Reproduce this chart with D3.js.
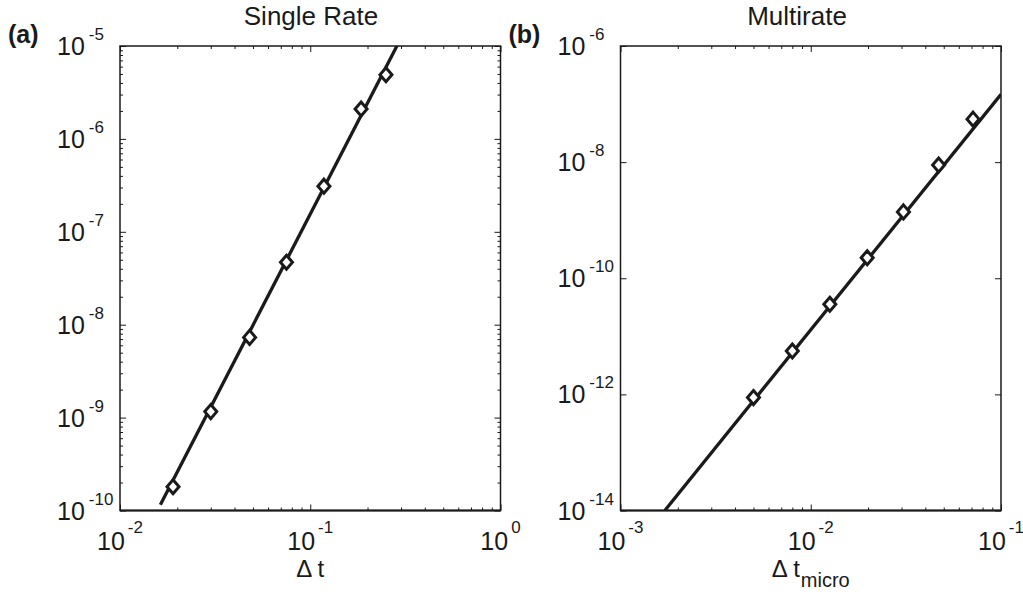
<!DOCTYPE html>
<html>
<head>
<meta charset="utf-8">
<script src="https://cdn.jsdelivr.net/npm/d3@7"></script>
<style>
  body { margin: 0; background: #fff; }
  text { font-family: "Liberation Sans", Arial, Helvetica, sans-serif; fill: #1a1a1a; }
</style>
</head>
<body>
<div id="chart"></div>
<script>
// values

// (a) single rate
const dtSingle  = [0.019, 0.030, 0.048, 0.075, 0.118, 0.185, 0.25];
const errSingle = [1.8e-10, 1.16e-9, 7.3e-9, 4.7e-8, 3.1e-7, 2.1e-6, 4.9e-6];
const fitSingleDt  = [0.0163, 0.30];
const fitSingleErr = [1.15e-10, 1.22e-5];

// (b) multirate
const dtMicro  = [0.0050, 0.0080, 0.0126, 0.0198, 0.0307, 0.047, 0.0713];
const errMulti = [8.8e-13, 5.6e-12, 3.57e-11, 2.26e-10, 1.39e-9, 8.9e-9, 5.5e-8];
const fitMultiDt  = [0.00171, 0.1];
const fitMultiErr = [1e-14, 1.47e-7];

// ticks and their exponents
const xTicksSingle = [1e-2, 1e-1, 1];
const xExpSingle   = ["-2", "-1", "0"];
const yTicksSingle = [1e-10, 1e-9, 1e-8, 1e-7, 1e-6, 1e-5];
const yExpSingle   = ["-10", "-9", "-8", "-7", "-6", "-5"];
const xTicksMulti  = [1e-3, 1e-2, 1e-1];
const xExpMulti    = ["-3", "-2", "-1"];
const yTicksMulti  = [1e-14, 1e-12, 1e-10, 1e-8, 1e-6];
const yExpMulti    = ["-14", "-12", "-10", "-8", "-6"];

const width = 1023, height = 596;
const plotTop = 46, plotBottom = 510.5, boxW = 380.5;
const ink = "#1a1a1a";

const svg = d3.select("#chart")
  .append("svg")
    .attr("width", width)
    .attr("height", height);

const panels = [
  { id: "a", tag: "(a)", title: "Single Rate", titleX: 311, left: 120,
    xDomain: [1e-2, 1], yDomain: [1e-10, 1e-5],
    xTicks: xTicksSingle, xExp: xExpSingle, yTicks: yTicksSingle, yExp: yExpSingle,
    minorY: true, dt: dtSingle, err: errSingle, fitDt: fitSingleDt, fitErr: fitSingleErr,
    xLabel: "Δ t", xSub: null },
  { id: "b", tag: "(b)", title: "Multirate", titleX: 797, left: 620.5,
    xDomain: [1e-3, 1e-1], yDomain: [1e-14, 1e-6],
    xTicks: xTicksMulti, xExp: xExpMulti, yTicks: yTicksMulti, yExp: yExpMulti,
    minorY: false, dt: dtMicro, err: errMulti, fitDt: fitMultiDt, fitErr: fitMultiErr,
    xLabel: "Δ t", xSub: "micro" }
];

function isDecade(v) {
  const l = Math.log10(v);
  return Math.abs(l - Math.round(l)) < 1e-9;
}

function drawPanel(p) {
  const x = d3.scaleLog().domain(p.xDomain).range([p.left, p.left + boxW]);
  const y = d3.scaleLog().domain(p.yDomain).range([plotBottom, plotTop]);
  const g = svg.append("g");

  const minorX = x.ticks().filter(v => !isDecade(v));
  const minorY = p.minorY ? y.ticks().filter(v => !isDecade(v)) : [];

  // inward ticks on all four sides
  function ticks(axis, vals, size, transform) {
    g.append("g")
      .attr("transform", transform)
      .call(axis.tickValues(vals).tickSize(-size).tickFormat(""))
      .call(s => s.select(".domain").remove())
      .selectAll("line").attr("stroke", ink).attr("stroke-width", 1);
  }
  ticks(d3.axisBottom(x), p.xTicks, 6, `translate(0,${plotBottom})`);
  ticks(d3.axisTop(x), p.xTicks, 6, `translate(0,${plotTop})`);
  ticks(d3.axisBottom(x), minorX, 3, `translate(0,${plotBottom})`);
  ticks(d3.axisTop(x), minorX, 3, `translate(0,${plotTop})`);
  ticks(d3.axisLeft(y), p.yTicks, 6, `translate(${p.left},0)`);
  ticks(d3.axisRight(y), p.yTicks, 6, `translate(${p.left + boxW},0)`);
  if (minorY.length) {
    ticks(d3.axisLeft(y), minorY, 3, `translate(${p.left},0)`);
    ticks(d3.axisRight(y), minorY, 3, `translate(${p.left + boxW},0)`);
  }

  // box
  g.append("rect")
    .attr("x", p.left).attr("y", plotTop)
    .attr("width", boxW).attr("height", plotBottom - plotTop)
    .attr("fill", "none").attr("stroke", ink).attr("stroke-width", 1.5);
  g.append("line")
    .attr("x1", p.left).attr("x2", p.left + boxW)
    .attr("y1", plotBottom).attr("y2", plotBottom)
    .attr("stroke", ink).attr("stroke-width", 2);

  // x tick labels: 10 with superscript
  g.selectAll(".xlab")
    .data(p.xTicks)
    .join("text")
      .attr("class", "xlab")
      .attr("x", d => x(d))
      .attr("y", plotBottom + 39)
      .attr("text-anchor", "middle")
      .style("font-size", "25px")
      .each(function(d, i) {
        const t = d3.select(this);
        t.append("tspan").text("10");
        t.append("tspan").attr("dx", 3).attr("dy", -17).style("font-size", "17px").text(p.xExp[i]);
      });

  // y tick labels
  g.selectAll(".ylab")
    .data(p.yTicks)
    .join("text")
      .attr("class", "ylab")
      .attr("x", p.left - 63)
      .attr("y", d => y(d) + 9)
      .style("font-size", "25px")
      .each(function(d, i) {
        const t = d3.select(this);
        t.append("tspan").text("10");
        t.append("tspan").attr("dx", 4).attr("dy", -15).style("font-size", "17px").text(p.yExp[i]);
      });

  // axis label
  const xl = g.append("text")
    .attr("x", (p.left + p.left + boxW) / 2)
    .attr("y", 577)
    .attr("text-anchor", "middle")
    .style("font-size", "24px");
  xl.append("tspan").text(p.xLabel);
  if (p.xSub) {
    xl.append("tspan").attr("dx", 1).attr("dy", 10).style("font-size", "20px").text(p.xSub);
  }

  // title and panel tag
  g.append("text")
    .attr("x", p.titleX).attr("y", 25)
    .attr("text-anchor", "middle")
    .style("font-size", "26px")
    .text(p.title);
  g.append("text")
    .attr("x", p.left - 112).attr("y", 43)
    .style("font-size", "25px")
    .style("font-weight", "bold")
    .text(p.tag);

  // fitted line, clipped to the box
  svg.append("clipPath").attr("id", "clip-" + p.id)
    .append("rect")
      .attr("x", p.left).attr("y", plotTop)
      .attr("width", boxW).attr("height", plotBottom - plotTop);

  g.append("path")
    .datum(d3.zip(p.fitDt, p.fitErr))
    .attr("clip-path", `url(#clip-${p.id})`)
    .attr("d", d3.line().x(d => x(d[0])).y(d => y(d[1])))
    .attr("fill", "none")
    .attr("stroke", ink)
    .attr("stroke-width", 3.3);

  // diamond markers
  g.selectAll(".pt")
    .data(d3.zip(p.dt, p.err))
    .join("path")
      .attr("class", "pt")
      .attr("d", d => {
        const cx = x(d[0]), cy = y(d[1]);
        return `M${cx},${cy - 7}L${cx + 6},${cy}L${cx},${cy + 7}L${cx - 6},${cy}Z`;
      })
      .attr("fill", "#fff")
      .attr("stroke", ink)
      .attr("stroke-width", 3);
}

panels.forEach(drawPanel);
</script>
</body>
</html>
